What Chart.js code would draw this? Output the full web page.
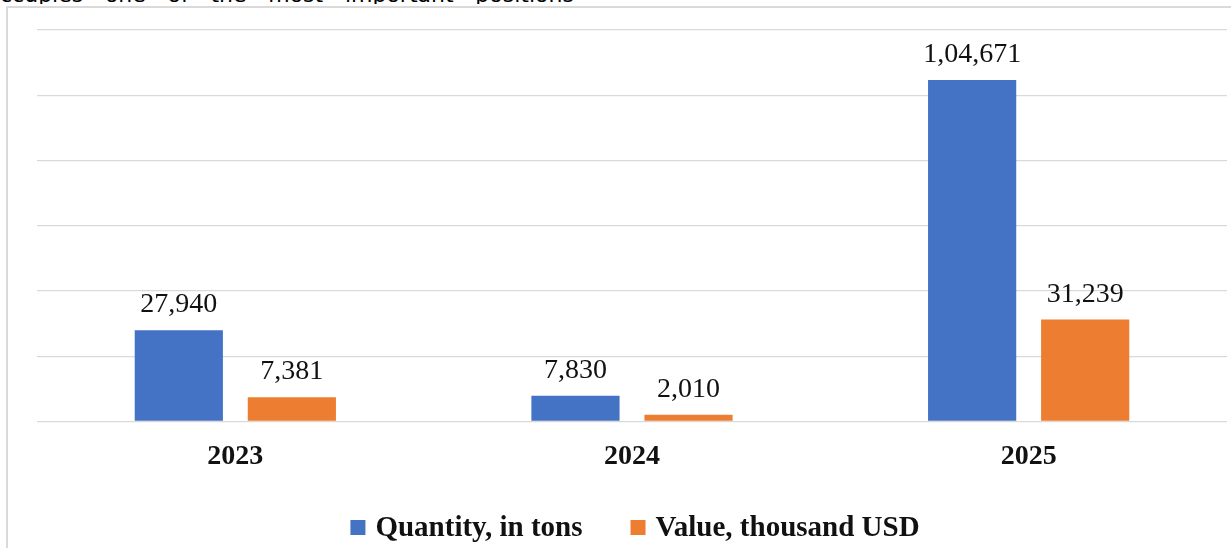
<!DOCTYPE html>
<html>
<head>
<meta charset="utf-8">
<script src="https://cdn.jsdelivr.net/npm/chart.js@4"></script>
<style>
  html, body { margin: 0; padding: 0; background: #ffffff; }
  body { width: 1231px; height: 548px; position: relative; overflow: hidden; }
  #bodyText {
    position: absolute; left: 0; top: -18px; height: 22px; width: 1240px;
    overflow: hidden; white-space: nowrap;
    font-family: "DejaVu Sans", Verdana, sans-serif; font-size: 22px; line-height: normal;
    word-spacing: 14.7px; color: #000;
  }
  #frame {
    position: absolute; left: 6px; top: 6px; width: 1225px; height: 548px;
    border-top: 2px solid #dadada; border-left: 2px solid #dadada;
  }
  #wrap { position: absolute; left: 0; top: 0; width: 1231px; height: 548px; }
</style>
</head>
<body>
<div id="bodyText">ccupies one of the most important positions</div>
<div id="frame"></div>
<div id="wrap"><canvas id="chart" width="1231" height="548"></canvas></div>
<script>
// Export volumes by year
const years = ['2023', '2024', '2025'];
const quantityTons = [27940, 7830, 104671];
const valueThousandUsd = [7381, 2010, 31239];
const seriesNames = ['Quantity, in tons', 'Value, thousand USD'];
const seriesColors = ['#4472C4', '#ED7D31'];
const axisMax = 120000;
const axisStep = 20000;

const serif = "'Liberation Serif', 'Times New Roman', serif";

// Lakh-style digit grouping: 104671 -> 1,04,671
function groupDigits(n) {
  const s = String(Math.round(n));
  if (s.length <= 3) return s;
  const last3 = s.slice(-3);
  let rest = s.slice(0, -3);
  const parts = [];
  while (rest.length > 2) {
    parts.unshift(rest.slice(-2));
    rest = rest.slice(0, -2);
  }
  if (rest.length) parts.unshift(rest);
  return parts.join(',') + ',' + last3;
}

// Draws each bar's value above it
const valueLabels = {
  id: 'valueLabels',
  afterDatasetsDraw(chart) {
    const ctx = chart.ctx;
    ctx.save();
    ctx.font = '28px ' + serif;
    ctx.fillStyle = '#111111';
    ctx.textAlign = 'center';
    ctx.textBaseline = 'alphabetic';
    chart.data.datasets.forEach((ds, i) => {
      chart.getDatasetMeta(i).data.forEach((bar, j) => {
        ctx.fillText(groupDigits(ds.data[j]), bar.x, bar.y - 18);
      });
    });
    ctx.restore();
  }
};

// Legend row under the axis: square swatch + bold series name
const seriesLegend = {
  id: 'seriesLegend',
  afterDraw(chart) {
    const ctx = chart.ctx;
    const box = 15, gapText = 10, gapItem = 48;
    ctx.save();
    ctx.font = 'bold 29px ' + serif;
    ctx.textBaseline = 'alphabetic';
    ctx.textAlign = 'left';
    const items = chart.data.datasets.map(ds => ({
      text: ds.label, color: ds.backgroundColor, w: ctx.measureText(ds.label).width
    }));
    let total = 0;
    items.forEach((it, i) => { total += box + gapText + it.w + (i ? gapItem : 0); });
    const cx = (chart.chartArea.left + chart.chartArea.right) / 2 + 3;
    let x = cx - total / 2;
    const boxTop = 520, baseline = 536;
    items.forEach(it => {
      ctx.fillStyle = it.color;
      ctx.fillRect(x, boxTop, box, box);
      x += box + gapText;
      ctx.fillStyle = '#111111';
      ctx.fillText(it.text, x, baseline);
      x += it.w + gapItem;
    });
    ctx.restore();
  }
};

new Chart(document.getElementById('chart'), {
  type: 'bar',
  data: {
    labels: years,
    datasets: [
      { label: seriesNames[0], data: quantityTons, backgroundColor: seriesColors[0] },
      { label: seriesNames[1], data: valueThousandUsd, backgroundColor: seriesColors[1] }
    ]
  },
  options: {
    responsive: false,
    animation: false,
    devicePixelRatio: 1,
    categoryPercentage: 0.57,
    barPercentage: 0.78,
    layout: { padding: { left: 37, right: 4, top: 30, bottom: 55 } },
    scales: {
      x: {
        grid: { display: false, drawTicks: false },
        border: { display: false },
        ticks: {
          padding: 19,
          color: '#111111',
          font: { family: serif, size: 28, weight: 'bold' }
        }
      },
      y: {
        min: 0,
        max: axisMax,
        ticks: { display: false, stepSize: axisStep },
        grid: { color: '#d9d9d9', lineWidth: 1.3, drawTicks: false },
        border: { display: false }
      }
    },
    plugins: {
      legend: { display: false },
      tooltip: { enabled: false }
    }
  },
  plugins: [valueLabels, seriesLegend]
});
</script>
</body>
</html>
